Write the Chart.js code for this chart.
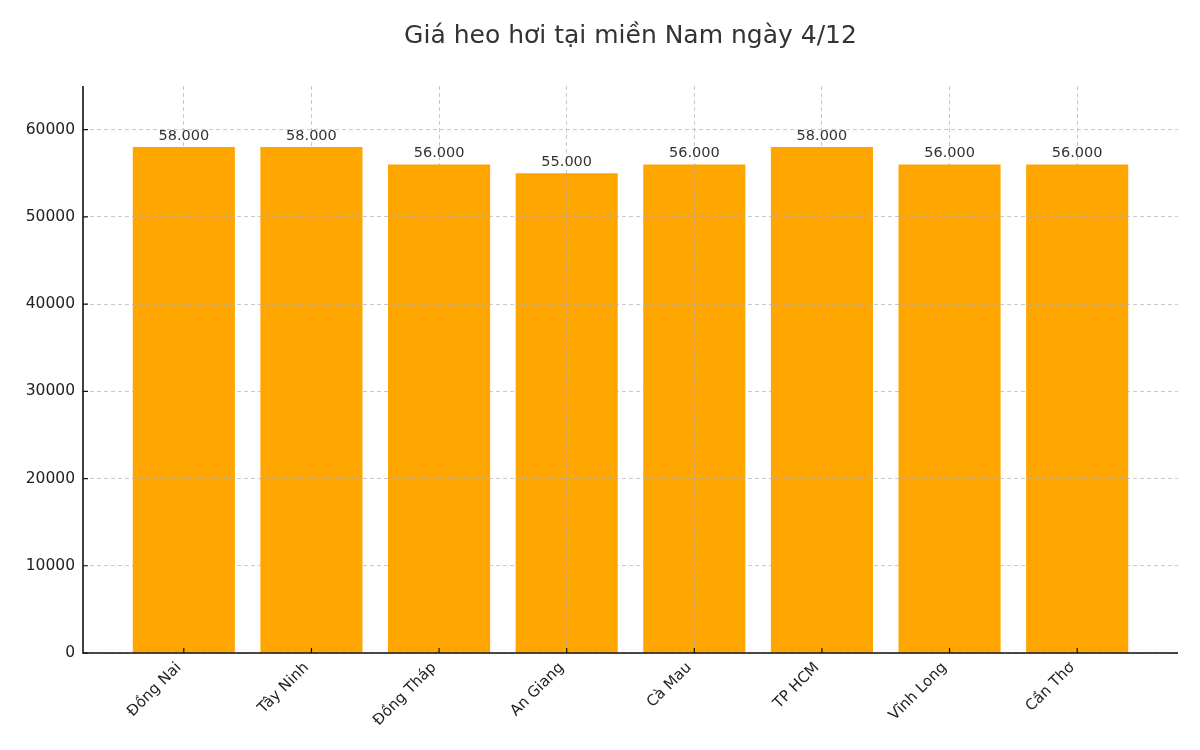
<!DOCTYPE html>
<html>
<head>
<meta charset="utf-8">
<script src="https://cdn.jsdelivr.net/npm/chart.js@4/dist/chart.umd.min.js"></script>
<style>
html,body{margin:0;padding:0;background:#fff;}
#wrap{width:1200px;height:750px;}
</style>
</head>
<body>
<div id="wrap"><canvas id="c" width="1200" height="750"></canvas></div>
<script>
const titleText = "Giá heo hơi tại miền Nam ngày 4/12";
const categories = ["Đồng Nai", "Tây Ninh", "Đồng Tháp", "An Giang", "Cà Mau", "TP HCM", "Vĩnh Long", "Cần Thơ"];
const prices = [58000, 58000, 56000, 55000, 56000, 58000, 56000, 56000];
const yTicks = [0, 10000, 20000, 30000, 40000, 50000, 60000];

const FONT = "'DejaVu Sans', sans-serif";

const points = prices.map((v, i) => ({x: i, y: v}));

const fmt = v => v.toString().replace(/\B(?=(\d{3})+(?!\d))/g, ".");

const extras = {
  id: 'extras',
  afterDraw(chart) {
    const ctx = chart.ctx;
    const area = chart.chartArea;
    const xs = chart.scales.x, ys = chart.scales.y;
    ctx.save();
    // title
    ctx.fillStyle = '#333333';
    ctx.font = "25px " + FONT;
    ctx.textAlign = 'center';
    ctx.textBaseline = 'middle';
    ctx.fillText(titleText, (area.left + area.right) / 2, 36);
    // value labels
    ctx.font = "14.5px " + FONT;
    ctx.textBaseline = 'bottom';
    const meta = chart.getDatasetMeta(0);
    meta.data.forEach((bar, i) => {
      ctx.fillText(fmt(prices[i]), bar.x, bar.y - 4);
    });
    // axis spines
    ctx.strokeStyle = '#111111';
    ctx.lineWidth = 1.6;
    ctx.beginPath();
    ctx.moveTo(area.left, area.top);
    ctx.lineTo(area.left, area.bottom);
    ctx.lineTo(area.right, area.bottom);
    ctx.stroke();
    // inward ticks
    ctx.lineWidth = 1.2;
    ctx.beginPath();
    categories.forEach((c, i) => {
      const px = xs.getPixelForValue(i);
      ctx.moveTo(px, area.bottom);
      ctx.lineTo(px, area.bottom - 5);
    });
    yTicks.forEach(v => {
      const py = ys.getPixelForValue(v);
      ctx.moveTo(area.left, py);
      ctx.lineTo(area.left + 5, py);
    });
    ctx.stroke();
    ctx.restore();
  }
};

new Chart(document.getElementById('c'), {
  type: 'bar',
  data: {
    datasets: [{
      data: points,
      backgroundColor: '#FFA500',
      borderWidth: 0,
      barPercentage: 0.8,
      categoryPercentage: 1.0
    }]
  },
  options: {
    responsive: false,
    animation: false,
    devicePixelRatio: 1,
    layout: {padding: {top: 86, right: 22, left: 0, bottom: 0}},
    plugins: {legend: {display: false}, tooltip: {enabled: false}, title: {display: false}},
    scales: {
      x: {
        type: 'linear',
        min: -0.79,
        max: 7.79,
        offset: false,
        afterBuildTicks(scale) { scale.ticks = categories.map((c, i) => ({value: i})); },
        afterFit(scale) { scale.height = 97; },
        grid: {
          display: true,
          offset: false,
          z: 1,
          drawTicks: false,
          color: 'rgba(176,176,176,0.75)',
          lineWidth: 0.9,
          tickLength: 0
        },
        border: {display: false, dash: [4, 3]},
        ticks: {
          autoSkip: false,
          maxRotation: 45,
          minRotation: 45,
          padding: 6,
          labelOffset: -5,
          color: '#222222',
          font: {family: FONT, size: 15},
          callback: (v) => categories[Math.round(v)] ?? ''
        }
      },
      y: {
        min: 0,
        max: 65000,
        afterBuildTicks(scale) { scale.ticks = yTicks.map(v => ({value: v})); },
        afterFit(scale) { scale.width = 83; },
        grid: {
          display: true,
          z: 1,
          drawTicks: false,
          color: 'rgba(176,176,176,0.75)',
          lineWidth: 0.9
        },
        border: {display: false, dash: [4, 3]},
        ticks: {
          padding: 8,
          color: '#222222',
          font: {family: FONT, size: 15.5},
          callback: (v) => String(v)
        }
      }
    }
  },
  plugins: [extras]
});
</script>
</body>
</html>
